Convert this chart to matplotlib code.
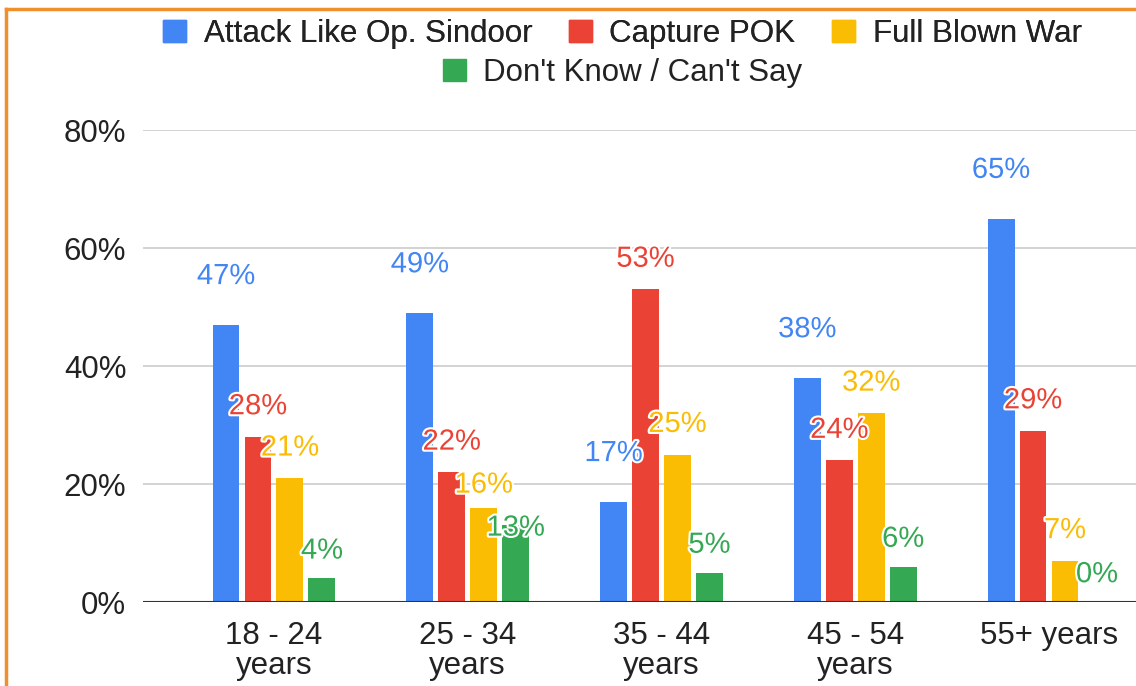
import matplotlib.pyplot as plt
import matplotlib.patheffects as pe
from matplotlib.patches import Patch
from matplotlib.lines import Line2D
import numpy as np

plt.rcParams['font.family'] = ['Liberation Sans', 'DejaVu Sans']

# data
groups = ["18 - 24\nyears", "25 - 34\nyears", "35 - 44\nyears", "45 - 54\nyears", "55+ years"]
series = ["Attack Like Op. Sindoor", "Capture POK", "Full Blown War", "Don't Know / Can't Say"]
attack = [47, 49, 17, 38, 65]
capture = [28, 22, 53, 24, 29]
war = [21, 16, 25, 32, 7]
dont_know = [4, 13, 5, 6, 0]
values = [attack, capture, war, dont_know]
colors = ["#4285F4", "#EA4335", "#FBBC04", "#34A853"]
label_offsets = [35, 22, 22, 20]   # points above bar top

DPI = 100
fig = plt.figure(figsize=(11.36, 6.86), dpi=DPI)
ax = fig.add_axes([143 / 1136, 1 - 602 / 686, 1 - 143 / 1136, (602 - 130) / 686])
ax.set_ylim(0, 80)
ax.set_xlim(-0.676, 4.449)

x = np.arange(len(groups))
width = 0.139
step = 0.165
for i, (vals, col) in enumerate(zip(values, colors)):
    ax.bar(x + (i - 1.5) * step, vals, width=width, color=col, zorder=3)

# value labels, pushed down when they would collide with the neighbour's label
min_sep = 37  # px
push_sep = 43  # px
for g in range(len(groups)):
    prev_y = None
    for i, (vals, col) in enumerate(zip(values, colors)):
        px = g + (i - 1.5) * step
        v = vals[g]
        bar_y = ax.transData.transform((px, v))[1]
        lab_y = bar_y + label_offsets[i] * DPI / 72
        if prev_y is not None and abs(prev_y - lab_y) < min_sep:
            lab_y = prev_y - push_sep
        prev_y = lab_y
        ax.annotate(f"{v}%", (px, v), xytext=(0, (lab_y - bar_y) * 72 / DPI),
                    textcoords="offset points", ha="center", va="center",
                    fontsize=21, color=col, zorder=5,
                    path_effects=[pe.withStroke(linewidth=3, foreground="white")])

ax.set_yticks([0, 20, 40, 60, 80])
ax.set_yticklabels(["0%", "20%", "40%", "60%", "80%"])
ax.set_xticks(x)
ax.set_xticklabels(groups, linespacing=0.98)
ax.tick_params(axis="both", length=0, labelsize=22.5, labelcolor="#222222")
ax.tick_params(axis="y", pad=12)
ax.tick_params(axis="x", pad=14)
ax.grid(axis="y", color="#cccccc", linewidth=1.2, zorder=0)
for s in ["top", "right", "left", "bottom"]:
    ax.spines[s].set_visible(False)
ax.axhline(0, color="#333333", linewidth=1.5, zorder=4)

# legend, two rows
handles = [Patch(facecolor=c, edgecolor=c) for c in colors]
leg1 = fig.legend(handles[:3], series[:3], loc="center", bbox_to_anchor=(0.548, 1 - 34 / 686),
                  ncol=3, frameon=False, fontsize=22.5, handlelength=0.74, handleheight=0.74,
                  handletextpad=0.55, columnspacing=1.18, labelcolor="#222222",
                  borderpad=0, borderaxespad=0)
leg2 = fig.legend(handles[3:], series[3:], loc="center", bbox_to_anchor=(0.548, 1 - 73 / 686),
                  ncol=1, frameon=False, fontsize=22.5, handlelength=0.74, handleheight=0.74,
                  handletextpad=0.55, labelcolor="#222222", borderpad=0, borderaxespad=0)
fig.add_artist(leg1)

# orange frame on left and top
fig.add_artist(Line2D([6 / 1136, 6 / 1136], [0, 1 - 9 / 686], transform=fig.transFigure,
                      color="#F0902C", linewidth=2.5))
fig.add_artist(Line2D([6 / 1136, 1], [1 - 9 / 686, 1 - 9 / 686], transform=fig.transFigure,
                      color="#F0902C", linewidth=2.5))

fig.savefig("out.png", dpi=DPI)
